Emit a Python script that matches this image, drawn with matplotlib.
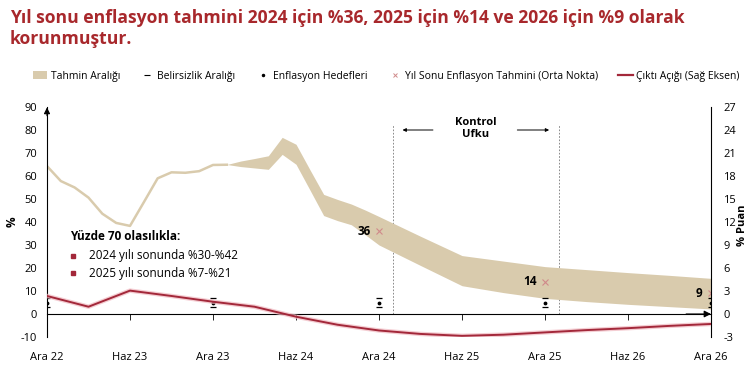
import matplotlib
matplotlib.use("Agg")
import matplotlib.pyplot as plt
from matplotlib.patches import Patch
from matplotlib.lines import Line2D

plt.rcParams["font.family"] = ["Open Sans", "DejaVu Sans"]
plt.rcParams["axes.unicode_minus"] = False

# months counted from Dec 2022 (0) to Dec 2026 (48)
hist_months = list(range(0, 14))
hist_infl = [64.3, 57.8, 55.0, 50.6, 43.6, 39.6, 38.3, 48.6, 59.0, 61.6,
             61.4, 62.1, 64.8, 64.9]

band_months = [13, 14, 15, 16, 17, 18, 19, 20, 21, 22, 23, 24,
               27, 30, 33, 36, 39, 42, 45, 48]
band_upper = [65.0, 66.5, 67.6, 68.8, 76.8, 73.8, 62.8, 52.0, 49.8, 47.8, 45.2, 42.4,
              33.8, 25.4, 23.0, 20.6, 19.3, 18.0, 16.8, 15.5]
band_lower = [65.0, 64.1, 63.5, 62.9, 69.4, 65.1, 54.0, 42.8, 40.6, 38.8, 34.5, 30.0,
              21.1, 12.3, 9.3, 6.8, 5.4, 4.2, 3.2, 2.2]

gap_months = [0, 3, 6, 9, 12, 15, 18, 21, 24, 27, 30, 33, 36, 39, 42, 45, 48]
output_gap = [2.35, 0.95, 3.05, 2.35, 1.6, 0.95, -0.35, -1.4, -2.15, -2.6, -2.85,
              -2.7, -2.4, -2.1, -1.85, -1.55, -1.3]

target_months = [0, 12, 24, 36, 48]
targets = [5, 5, 5, 5, 5]
unc_low = [3, 3, 3, 3, 3]
unc_high = [7, 7, 7, 7, 7]

mid_months = [24, 36, 48]
mid_forecast = [36, 14, 9]

tick_months = [0, 6, 12, 18, 24, 30, 36, 42, 48]
tick_labels = ["Ara 22", "Haz 23", "Ara 23", "Haz 24", "Ara 24", "Haz 25",
               "Ara 25", "Haz 26", "Ara 26"]

control_start, control_end = 25, 37

beige = "#d9cbad"
red = "#a3283a"
title_red = "#a8282c"

fig = plt.figure(figsize=(7.48, 3.73), dpi=100)
ax = fig.add_axes([47 / 748, 36 / 373, 664 / 748, 230 / 373])
ax2 = ax.twinx()

ax.fill_between(band_months, band_lower, band_upper, color=beige, lw=0, zorder=2)
ax.plot(hist_months, hist_infl, color=beige, lw=1.8, zorder=2)

ax.plot(target_months, targets, ".", color="black", ms=3.5, zorder=5)
ax.plot(target_months, unc_low, "_", color="black", ms=5, mew=0.9, zorder=5)
ax.plot(target_months, unc_high, "_", color="black", ms=5, mew=0.9, zorder=5)

ax.plot(mid_months, mid_forecast, "x", color="#d08a8a", ms=4, mew=0.8, zorder=5)
for m, v in zip(mid_months, mid_forecast):
    ax.annotate(str(v), (m, v), xytext=(-6, 0), textcoords="offset points",
                ha="right", va="center", fontsize=8.5, fontweight="bold", zorder=6)

ax2.plot(gap_months, output_gap, color="#f0b8c0", lw=3.2, alpha=0.7, zorder=3)
ax2.plot(gap_months, output_gap, color=red, lw=1.4, zorder=4)

ax.vlines([control_start, control_end], 0, 82.5, colors="#777777", lw=0.6,
          linestyles=(0, (2, 2)), zorder=1)
ax.text(31, 80.5, "Kontrol\nUfku", ha="center", va="center", fontsize=8,
        fontweight="bold", linespacing=1.1)
ax.annotate("", xy=(25.5, 80), xytext=(28.1, 80),
            arrowprops=dict(arrowstyle="-|>", color="black", lw=0.7, mutation_scale=5))
ax.annotate("", xy=(36.5, 80), xytext=(33.8, 80),
            arrowprops=dict(arrowstyle="-|>", color="black", lw=0.7, mutation_scale=5))

ax.text(1.66, 33.6, "Yüzde 70 olasılıkla:", fontsize=8.5, fontweight="bold",
        va="center")
ax.plot([1.9, 1.9], [25.4, 17.7], "s", color=red, ms=3.5)
ax.text(3.05, 25.4, "2024 yılı sonunda %30-%42", fontsize=8.5, va="center")
ax.text(3.05, 17.7, "2025 yılı sonunda %7-%21", fontsize=8.5, va="center")

ax.set_xlim(0, 48)
ax.set_ylim(-10, 90)
ax.set_yticks(range(-10, 91, 10))
ax2.set_ylim(-3, 27)
ax2.set_yticks(range(-3, 28, 3))
ax.set_xticks(tick_months)
ax.set_xticklabels(tick_labels)

for a in (ax, ax2):
    a.spines["top"].set_visible(False)
ax.spines["right"].set_visible(False)
ax2.spines["left"].set_visible(False)
ax2.spines["bottom"].set_visible(False)
ax2.spines["right"].set_linewidth(0.8)
ax.spines["left"].set_linewidth(0.8)
ax.spines["bottom"].set_position(("data", 0))
ax.spines["bottom"].set_linewidth(0.8)

ax.tick_params(axis="y", length=0, pad=7, labelsize=8)
ax2.tick_params(axis="y", length=0, pad=9, labelsize=8)
ax.tick_params(axis="x", length=4, width=0.6, pad=23, labelsize=8, direction="out")

ax.annotate("", xy=(0, 91), xytext=(0, 85), annotation_clip=False,
            arrowprops=dict(arrowstyle="-|>", color="black", lw=0.8, mutation_scale=9))
ax.annotate("", xy=(48.2, 0), xytext=(46.0, 0), annotation_clip=False,
            arrowprops=dict(arrowstyle="-|>", color="black", lw=0.8, mutation_scale=10))

ax.set_ylabel("%", fontsize=8.5, fontweight="bold", labelpad=2)
fig.text(1.0, 1 - 225 / 373, "% Puan", rotation=90, ha="right", va="center",
         fontsize=8, fontweight="bold")

fig.text(10 / 748, 1 - 9 / 373,
         "Yıl sonu enflasyon tahmini 2024 için %36, 2025 için %14 ve 2026 için %9 olarak\nkorunmuştur.",
         ha="left", va="top", fontsize=12.6, fontweight="bold", color=title_red,
         linespacing=1.2)

handles = [
    Patch(facecolor=beige, edgecolor="none"),
    Line2D([], [], ls="none", marker="_", color="black", ms=4, mew=0.8),
    Line2D([], [], ls="none", marker=".", color="black", ms=3),
    Line2D([], [], ls="none", marker="x", color="#d08a8a", ms=3.5, mew=0.7),
    Line2D([], [], color=red, lw=1.6),
]
labels = ["Tahmin Aralığı", "Belirsizlik Aralığı", "Enflasyon Hedefleri",
          "Yıl Sonu Enflasyon Tahmini (Orta Nokta)", "Çıktı Açığı (Sağ Eksen)"]
fig.legend(handles, labels, loc="center", bbox_to_anchor=(386 / 748, 1 - 76 / 373),
           ncol=5, frameon=False, fontsize=7.5, handlelength=1.4, handletextpad=0.3,
           columnspacing=1.9, borderpad=0)

fig.savefig("out.png", dpi=100)
